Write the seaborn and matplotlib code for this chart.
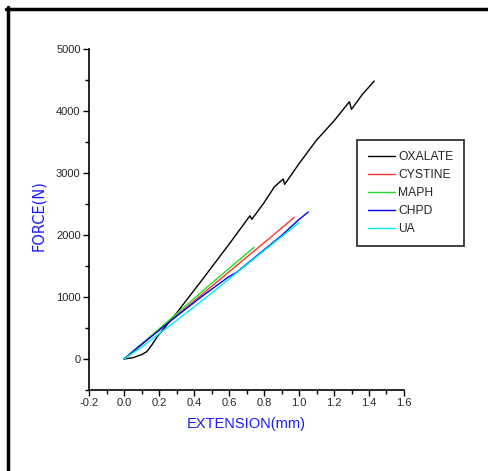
import numpy as np
import pandas as pd
import matplotlib
matplotlib.use("Agg")
import matplotlib.pyplot as plt
from matplotlib.lines import Line2D
import seaborn as sns

# ---- data ----
ox_x = [0.0, 0.05, 0.10, 0.13, 0.16, 0.19, 0.30, 0.45, 0.60, 0.72, 0.73, 0.80, 0.86, 0.91, 0.918, 1.00, 1.10, 1.20, 1.288, 1.30, 1.36, 1.43]
ox_y = [0, 20, 70, 118, 230, 360, 740, 1290, 1850, 2311, 2253, 2520, 2780, 2903, 2817, 3150, 3530, 3840, 4150, 4027, 4260, 4484]
cy_x = [0.0, 0.1, 0.3, 0.5, 0.7, 0.85, 0.973]
cy_y = [0, 230, 700, 1170, 1640, 1990, 2285]
ma_x = [0.0, 0.1, 0.3, 0.5, 0.743]
ma_y = [0, 240, 730, 1220, 1801]
ch_x = [0.0, 0.1, 0.3, 0.45, 0.6, 0.64, 0.8, 0.9, 1.0, 1.053]
ch_y = [0, 235, 690, 1020, 1330, 1390, 1760, 1990, 2250, 2371]
ua_x = [0.0, 0.1, 0.3, 0.5, 0.7, 0.85, 1.0]
ua_y = [0, 190, 620, 1060, 1520, 1860, 2198]
names = ["OXALATE", "CYSTINE", "MAPH", "CHPD", "UA"]
colors = ["#000000", "#ff3333", "#22dd22", "#0000ee", "#00eeee"]

xs = [ox_x, cy_x, ma_x, ch_x, ua_x]
ys = [ox_y, cy_y, ma_y, ch_y, ua_y]
frames = []
for n, x, y in zip(names, xs, ys):
    frames.append(pd.DataFrame({"x": x, "y": y, "s": n}))
df = pd.concat(frames, ignore_index=True)

sns.set_style("ticks")
plt.rcParams["font.family"] = ["Liberation Sans", "DejaVu Sans"]

fig = plt.figure(figsize=(4.88, 4.71), dpi=100)
ax = fig.add_axes([89/488, 1-390/471, 315/488, 341/471])

sns.lineplot(data=df, x="x", y="y", hue="s", palette=dict(zip(names, colors)),
             hue_order=names, sort=False, estimator=None,
             lw=1.0, ax=ax, legend=False)

ax.set_xlim(-0.2, 1.6)
ax.set_ylim(-500, 5000)
ax.set_xticks(np.arange(-0.2, 1.61, 0.2))
ax.set_xticklabels([f"{v:.1f}" for v in np.arange(-0.2, 1.61, 0.2)])
ax.set_xticks(np.arange(-0.1, 1.6, 0.2), minor=True)
ax.set_yticks([0, 1000, 2000, 3000, 4000, 5000])
ax.set_yticks([-500, 500, 1500, 2500, 3500, 4500], minor=True)
ax.tick_params(axis="both", which="major", direction="out", length=4, width=1, labelsize=8, pad=2, color="black")
ax.tick_params(axis="both", which="minor", direction="out", length=3, width=1, color="black")
sns.despine(ax=ax)
for s in ["left", "bottom"]:
    ax.spines[s].set_linewidth(1.2)
    ax.spines[s].set_color("black")

ax.set_xlabel("EXTENSION(mm)", color="#1a1aff", fontsize=10.5, labelpad=6)
ax.set_ylabel("FORCE(N)", color="#1a1aff", fontsize=10.5, family=["DejaVu Sans"])
ax.yaxis.set_label_coords(-0.135, 0.513)

handles = [Line2D([0], [0], color=c, lw=1.0) for c in colors]
leg = ax.legend(handles, names, loc="upper left", bbox_to_anchor=(0.851, 0.733),
                frameon=True, fancybox=False, fontsize=8.7, handlelength=2.2,
                handletextpad=0.3, labelspacing=0.5, borderpad=0.9, borderaxespad=0)
leg.get_frame().set_edgecolor("black")
leg.get_frame().set_linewidth(1.3)

# figure border (top and left thick lines)
fig.add_artist(Line2D([7.5/488, 7.5/488], [0, 1-7/471], color="black", lw=2.5, transform=fig.transFigure))
fig.add_artist(Line2D([6/488, 1], [1-8.5/471, 1-8.5/471], color="black", lw=2.5, transform=fig.transFigure))

fig.savefig("out.png", dpi=100)
